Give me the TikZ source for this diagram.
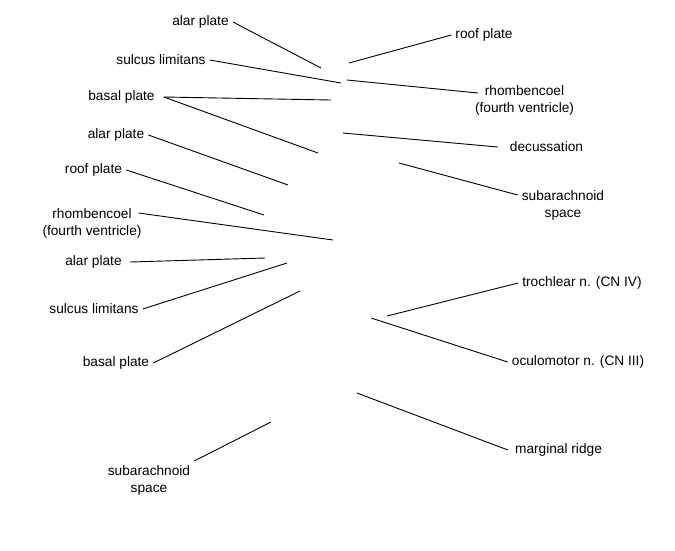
\documentclass[tikz,border=0pt]{standalone}
\usepackage{fontspec}
\setmainfont{Liberation Sans}
\begin{document}
\begin{tikzpicture}[x=1pt,y=-1pt,
	lab/.style={font=\fontsize{13.7}{17}\selectfont, inner sep=4pt, align=center},
	lead/.style={line width=0.9pt}]
		\useasboundingbox (0,0) rectangle (675,550);
		% Labels on the upper left, each with a leader line to the right
		\node [lab] (alarA) at (200.5,22) {alar plate};
		\node [lab] (sulcA) at (161,60) {sulcus limitans};
		\node [lab] (basalA) at (121.5,97) {basal plate};
		\node [lab] (alarB) at (116,135) {alar plate};
		\node [lab] (roofA) at (93.5,170) {roof plate};
		\node [lab] (rhoA) at (92,223) {rhombencoel\\(fourth ventricle)};
		\coordinate (alarA-end) at (321,68);
		\coordinate (sulcA-end) at (341,83);
		\coordinate (basalA-end) at (331,100);
		\coordinate (basalA-end2) at (318,153);
		\coordinate (alarB-end) at (288,185);
		\coordinate (roofA-end) at (264,215);
		\coordinate (rhoA-end) at (333,240);
		\draw [lead] (alarA.east) -- (alarA-end);
		\draw [lead] (sulcA.east) -- (sulcA-end);
		\draw [lead] ([xshift=5]basalA.east) -- (basalA-end);
		\draw [lead] ([xshift=5]basalA.east) -- (basalA-end2);
		\draw [lead] (alarB.east) -- (alarB-end);
		\draw [lead] (roofA.east) -- (roofA-end);
		\draw [lead] ([xshift=-7,yshift=10]rhoA.east) -- (rhoA-end);
		% Labels on the upper right, leader lines run to the left
		\node [lab] (roofB) at (484,35) {roof plate};
		\node [lab] (rhoB) at (524.5,100) {rhombencoel\\(fourth ventricle)};
		\node [lab] (decus) at (546.5,147) {decussation};
		\node [lab] (subB) at (563,205) {subarachnoid\\space};
		\coordinate (roofB-end) at (349,63);
		\coordinate (rhoB-end) at (347,80);
		\coordinate (decus-end) at (343,133);
		\coordinate (subB-end) at (399,163);
		\draw [lead] (roofB.west) -- (roofB-end);
		\draw [lead] ([xshift=7,yshift=7]rhoB.west) -- (rhoB-end);
		\draw [lead] ([xshift=-8]decus.west) -- (decus-end);
		\draw [lead] ([yshift=10]subB.west) -- (subB-end);
		% Labels on the lower left
		\node [lab] (alarC) at (93.5,262) {alar plate};
		\node [lab] (sulcC) at (94,309) {sulcus limitans};
		\node [lab] (basalC) at (116,363) {basal plate};
		\node [lab] (subC) at (149,480) {subarachnoid\\space};
		\coordinate (alarC-end) at (265,258);
		\coordinate (sulcC-end) at (287,263);
		\coordinate (basalC-end) at (300,291);
		\coordinate (subC-end) at (271,422);
		\draw [lead] ([xshift=4]alarC.east) -- (alarC-end);
		\draw [lead] (sulcC.east) -- (sulcC-end);
		\draw [lead] (basalC.east) -- (basalC-end);
		\draw [lead] (subC.north east) -- (subC-end);
		% Labels on the lower right
		\node [lab] (troch) at (582,283) {trochlear n. (CN IV)};
		\node [lab] (ocul) at (578,362) {oculomotor n. (CN III)};
		\node [lab] (marg) at (558.5,450) {marginal ridge};
		\coordinate (troch-end) at (387,316);
		\coordinate (ocul-end) at (371,318);
		\coordinate (marg-end) at (357,393);
		\draw [lead] (troch.west) -- (troch-end);
		\draw [lead] (ocul.west) -- (ocul-end);
		\draw [lead] ([xshift=-3]marg.west) -- (marg-end);
\end{tikzpicture}
\end{document}
